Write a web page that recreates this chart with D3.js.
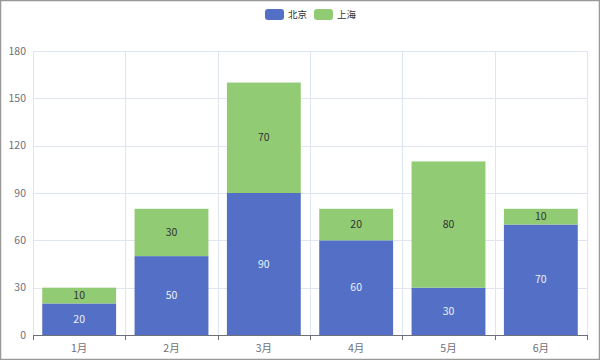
<!DOCTYPE html>
<html><head><meta charset="utf-8">
<script src="https://cdn.jsdelivr.net/npm/d3@7"></script>
<style>html,body{margin:0;padding:0;background:#fff;}svg{display:block;font-family:"Noto Sans CJK SC","Noto Sans",sans-serif;}</style>
</head><body>
<svg id="c" width="600" height="360"></svg>
<script>
const categories = ["1月","2月","3月","4月","5月","6月"];
const seriesNames = ["北京","上海"];
const beijing = [20,50,90,60,30,70];
const shanghai = [10,30,70,20,80,10];
const yTicks = [0,30,60,90,120,150,180];
const colors = ["#5470c6","#91cc75"];

const svg = d3.select("#c");
const W=600,H=360;
const m={l:33,r:13,t:51,b:25};
const FS = 10.5;
const x = d3.scaleBand().domain(categories).range([m.l, W-m.r]).paddingInner(0).paddingOuter(0);
const y = d3.scaleLinear().domain([0,180]).range([H-m.b, m.t]);

svg.append("rect").attr("x",0.5).attr("y",0.5).attr("width",W-1).attr("height",H-1)
  .attr("fill","#fff").attr("stroke","#999").attr("stroke-width",1.5);

// horizontal grid
svg.append("g").selectAll("line").data(yTicks.filter(d=>d>0)).join("line")
  .attr("x1",m.l).attr("x2",W-m.r).attr("y1",d=>Math.round(y(d))+0.5).attr("y2",d=>Math.round(y(d))+0.5)
  .attr("stroke","#e0e6f1");
// vertical grid
const bounds = categories.map(c=>x(c)).concat([W-m.r]);
svg.append("g").selectAll("line").data(bounds).join("line")
  .attr("x1",d=>Math.round(d)+0.5).attr("x2",d=>Math.round(d)+0.5).attr("y1",m.t).attr("y2",H-m.b)
  .attr("stroke","#e0e6f1");

// y labels
svg.append("g").selectAll("text").data(yTicks).join("text")
  .attr("x",m.l-7).attr("y",d=>y(d)).attr("dy","0.35em").attr("text-anchor","end")
  .attr("fill","#6e7079").attr("font-size",FS).text(d=>d);

// stacked bars
const rows = categories.map((c,i)=>({cat:c, "北京":beijing[i], "上海":shanghai[i]}));
const stack = d3.stack().keys(seriesNames)(rows);
const bw = x.bandwidth()*0.8;
const off = (x.bandwidth()-bw)/2;
stack.forEach((s,si)=>{
  const g = svg.append("g");
  g.selectAll("rect").data(s).join("rect")
    .attr("x",d=>x(d.data.cat)+off).attr("width",bw)
    .attr("y",d=>y(d[1])).attr("height",d=>y(d[0])-y(d[1]))
    .attr("fill",colors[si]);
  g.selectAll("text").data(s).join("text")
    .attr("x",d=>x(d.data.cat)+x.bandwidth()/2).attr("y",d=>(y(d[0])+y(d[1]))/2).attr("dy","0.35em")
    .attr("text-anchor","middle").attr("font-size",FS)
    .attr("fill",si===0?"#eef0fa":"#333333")
    .text(d=>d[1]-d[0]);
});

// x axis
const ax = svg.append("g");
ax.append("line").attr("x1",m.l).attr("x2",W-m.r).attr("y1",H-m.b+0.5).attr("y2",H-m.b+0.5).attr("stroke","#6e7079");
ax.selectAll("line.t").data(bounds).join("line").attr("class","t")
  .attr("x1",d=>Math.round(d)+0.5).attr("x2",d=>Math.round(d)+0.5).attr("y1",H-m.b).attr("y2",H-m.b+5).attr("stroke","#6e7079");
ax.selectAll("text").data(categories).join("text")
  .attr("x",d=>x(d)+x.bandwidth()/2).attr("y",H-m.b+13).attr("dy","0.35em").attr("text-anchor","middle")
  .attr("fill","#6e7079").attr("font-size",FS).text(d=>d);

// legend
const lg = svg.append("g");
const items = [{n:"北京",c:colors[0],x:265},{n:"上海",c:colors[1],x:314}];
items.forEach(it=>{
  lg.append("rect").attr("x",it.x).attr("y",9).attr("width",19).attr("height",11).attr("rx",3).attr("fill",it.c);
  lg.append("text").attr("x",it.x+23).attr("y",14.5).attr("dy","0.35em").attr("font-size",9.5).attr("fill","#333").text(it.n);
});
</script>
</body></html>
